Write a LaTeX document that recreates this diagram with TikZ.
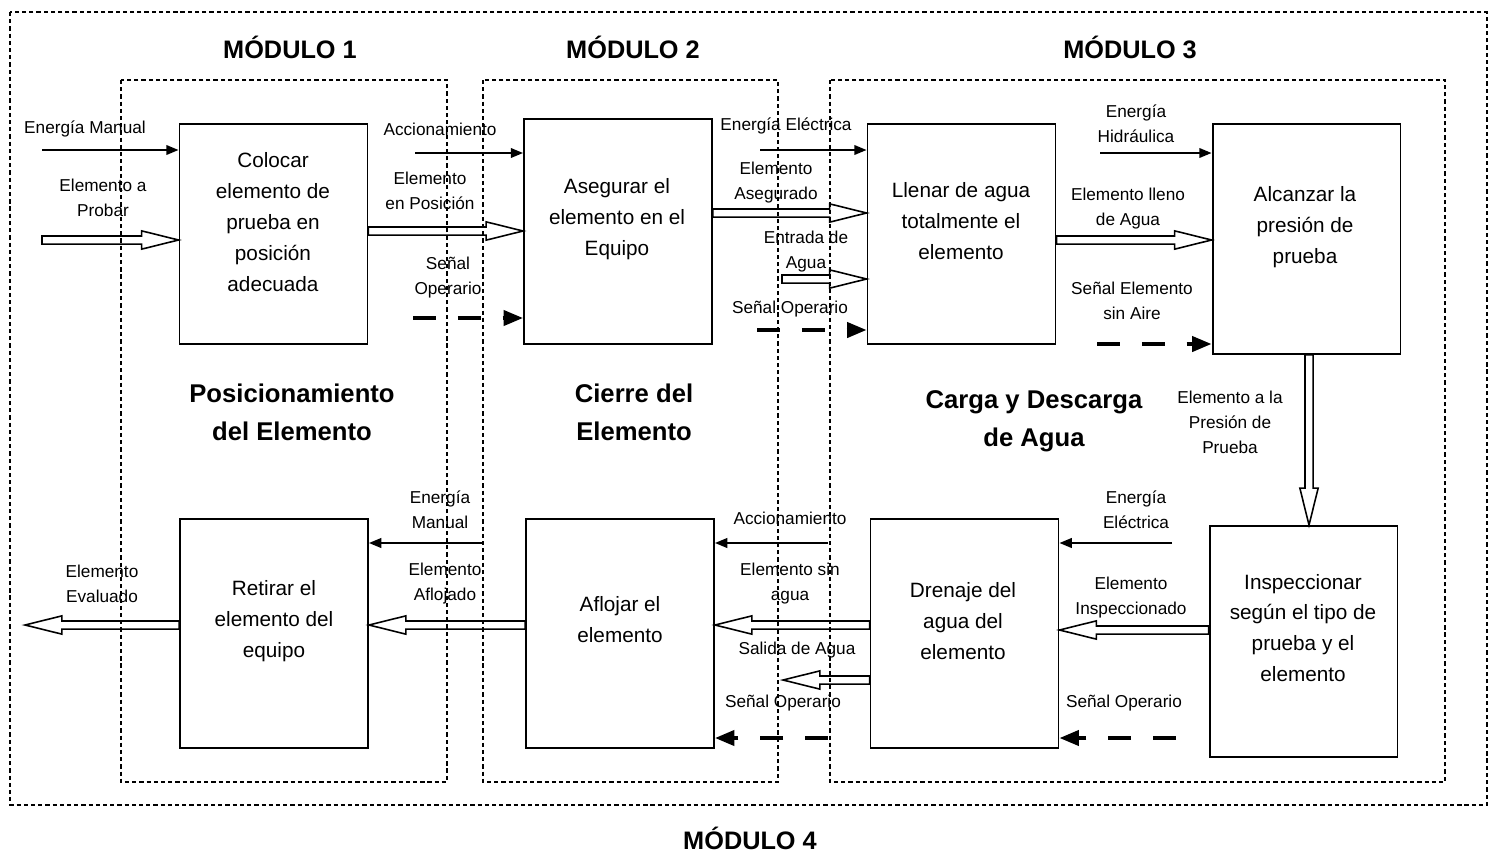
\documentclass[tikz,border=0pt]{standalone}
\usepackage{fontspec}
\setmainfont{Liberation Sans}
\usetikzlibrary{arrows.meta,calc}
\tikzset{
  % cajas y textos
  blk/.style={draw,line width=1.1pt,minimum width=3.76cm,inner sep=0pt},
  bt/.style={align=center,font=\fontsize{11.8}{17.6}\selectfont,inner sep=0pt},
  lb/.style={align=center,font=\fontsize{9.8}{14.2}\selectfont,inner sep=0pt},
  mt/.style={font=\fontsize{14.4}{17}\selectfont\bfseries,inner sep=0pt},
  st/.style={align=center,font=\fontsize{14.6}{21.5}\selectfont\bfseries,inner sep=0pt},
  mod/.style={draw,line width=1pt,dash pattern=on 2.4pt off 1.7pt},
  % flechas
  fa/.style={-{Triangle[length=7pt,width=5.5pt]},line width=1pt},
  sa/.style={-{Triangle[length=11pt,width=8.5pt]},line width=2.2pt,
             dash pattern=on 13pt off 12.5pt},
  ha/.style={draw,line width=0.9pt,
    to path={($(\tikztostart)!2.3pt!90:(\tikztotarget)$)
      -- ($(\tikztotarget)!21pt!(\tikztostart)!2.3pt!-90:(\tikztostart)$)
      -- ($(\tikztotarget)!21pt!(\tikztostart)!5.2pt!-90:(\tikztostart)$)
      -- (\tikztotarget)
      -- ($(\tikztotarget)!21pt!(\tikztostart)!5.2pt!90:(\tikztostart)$)
      -- ($(\tikztotarget)!21pt!(\tikztostart)!2.3pt!90:(\tikztostart)$)
      -- ($(\tikztostart)!2.3pt!-90:(\tikztotarget)$) -- cycle}},
}
\begin{document}
\begin{tikzpicture}[x=0.02cm,y=-0.02cm]
\useasboundingbox (0,0) rectangle (1490,852);
  % modulos
  \draw[mod] (10,12) rectangle (1487,805);
  \draw[mod] (121,80) rectangle (447,782);
  \draw[mod] (483,80) rectangle (778,782);
  \draw[mod] (830,80) rectangle (1445,782);
  \node[mt] (m1) at (290,47) {MÓDULO 1};
  \node[mt] (m2) at (633,47) {MÓDULO 2};
  \node[mt] (m3) at (1130,47) {MÓDULO 3};
  \node[mt] (m4) at (750,838) {MÓDULO 4};
  \node[st] (s1) at (292,412) {Posicionamiento\\del Elemento};
  \node[st] (s2) at (634,412) {Cierre del\\Elemento};
  \node[st] (s3) at (1034,421) {Carga y Descarga\\de Agua};
  % cajas
  \node[blk,minimum height=4.4cm] (b1) at (273.5,234) {};
  \node[blk,minimum height=4.5cm] (b2) at (618,231.5) {};
  \node[blk,minimum height=4.4cm] (b3) at (961.5,234) {};
  \node[blk,minimum height=4.6cm] (b4) at (1306.5,239) {};
  \node[blk,minimum height=4.62cm] (b5) at (1303.5,641.5) {};
  \node[blk,minimum height=4.58cm] (b6) at (964.5,633.5) {};
  \node[blk,minimum height=4.58cm] (b7) at (620,633.5) {};
  \node[blk,minimum height=4.58cm] (b8) at (274,633.5) {};
  \node[bt] (t1) at (273,222) {Colocar\\elemento de\\prueba en\\posición\\adecuada};
  \node[bt] (t2) at (617,219) {Asegurar el\\elemento en el\\Equipo};
  \node[bt] (t3) at (961,221) {Llenar de agua\\totalmente el\\elemento};
  \node[bt] (t4) at (1305,227) {Alcanzar la\\presión de\\prueba};
  \node[bt] (t5) at (1303,628) {Inspeccionar\\según el tipo de\\prueba y el\\elemento};
  \node[bt] (t6) at (963,621) {Drenaje del\\agua del\\elemento};
  \node[bt] (t7) at (620,620) {Aflojar el\\elemento};
  \node[bt] (t8) at (274,621) {Retirar el\\elemento del\\equipo};
  % extremos libres
  \coordinate (a1) at (42,150);
  \coordinate (a2) at (42,240);
  \coordinate (a3) at (415,153);
  \coordinate (a4) at (413,318);
  \coordinate (a5) at (760,150);
  \coordinate (a6) at (782,279);
  \coordinate (a7) at (757,330);
  \coordinate (a8) at (1100,153);
  \coordinate (a9) at (1097,344);
  \coordinate (a10) at (1172,543);
  \coordinate (a11) at (1176,738);
  \coordinate (a12) at (828,543);
  \coordinate (a13) at (783,680);
  \coordinate (a14) at (828,738);
  \coordinate (a15) at (483,543);
  \coordinate (a16) at (25,625);
  % fila superior
  \draw[fa] (a1) -- (b1.west |- 0,150);
  \draw[ha] (a2) to (b1.west |- 0,240);
  \draw[fa] (a3) -- (b2.west |- 0,153);
  \draw[ha] (b1.east |- 0,231) to (b2.west |- 0,231);
  \draw[sa] (a4) -- (b2.west |- 0,318);
  \draw[fa] (a5) -- (b3.west |- 0,150);
  \draw[ha] (b2.east |- 0,213) to (b3.west |- 0,213);
  \draw[ha] (a6) to (b3.west |- 0,279);
  \draw[sa] (a7) -- (b3.west |- 0,330);
  \draw[fa] (a8) -- (b4.west |- 0,153);
  \draw[ha] (b3.east |- 0,240) to (b4.west |- 0,240);
  \draw[sa] (a9) -- (b4.west |- 0,344);
  \draw[ha] (b4.south -| 1309,0) to (b5.north -| 1309,0);
  % fila inferior
  \draw[fa] (a10) -- (b6.east |- 0,543);
  \draw[ha] (b5.west |- 0,630) to (b6.east |- 0,630);
  \draw[sa] (a11) -- (b6.east |- 0,738);
  \draw[fa] (a12) -- (b7.east |- 0,543);
  \draw[ha] (b6.west |- 0,625) to (b7.east |- 0,625);
  \draw[ha] (b6.west |- 0,680) to (a13);
  \draw[sa] (a14) -- (b7.east |- 0,738);
  \draw[fa] (a15) -- (b8.east |- 0,543);
  \draw[ha] (b7.west |- 0,625) to (b8.east |- 0,625);
  \draw[ha] (b8.west |- 0,625) to (a16);
  % etiquetas
  \node[lb] (l1) at (85,129) {Energía Manual};
  \node[lb] (l2) at (103,198) {Elemento a\\Probar};
  \node[lb] (l3) at (440,129) {Accionamiento};
  \node[lb] (l4) at (430,191) {Elemento\\en Posición};
  \node[lb] (l5) at (448,278) {Señal\\Operario};
  \node[lb] (l6) at (786,126) {Energía Eléctrica};
  \node[lb] (l7) at (776,183) {Elemento\\Asegurado};
  \node[lb] (l8) at (806,252) {Entrada de\\Agua};
  \node[lb] (l9) at (790,309) {Señal Operario};
  \node[lb] (l10) at (1136,124) {Energía\\Hidráulica};
  \node[lb] (l11) at (1128,209) {Elemento lleno\\de Agua};
  \node[lb] (l12) at (1132,301) {Señal Elemento\\sin Aire};
  \node[lb] (l13) at (1230,422) {Elemento a la\\Presión de\\Prueba};
  \node[lb] (l14) at (1136,510) {Energía\\Eléctrica};
  \node[lb] (l15) at (1131,598) {Elemento\\Inspeccionado};
  \node[lb] (l16) at (1124,703) {Señal Operario};
  \node[lb] (l17) at (790,518) {Accionamiento};
  \node[lb] (l18) at (790,584) {Elemento sin\\agua};
  \node[lb] (l19) at (797,650) {Salida de Agua};
  \node[lb] (l20) at (783,703) {Señal Operario};
  \node[lb] (l21) at (440,510) {Energía\\Manual};
  \node[lb] (l22) at (445,584) {Elemento\\Aflojado};
  \node[lb] (l23) at (102,584) {Elemento\\Evaluado};
\end{tikzpicture}
\end{document}
